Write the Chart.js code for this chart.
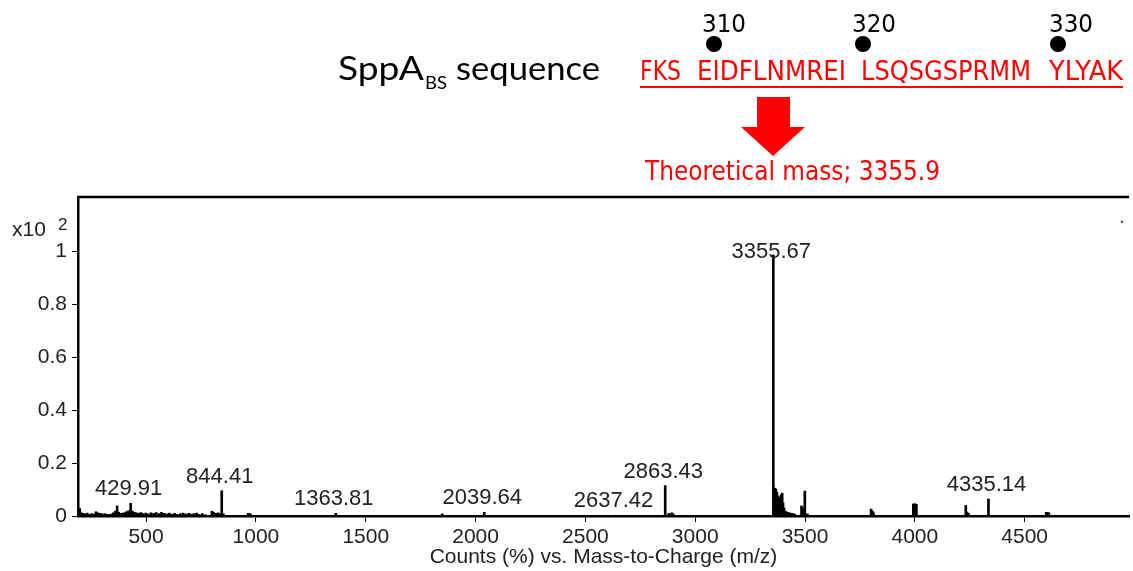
<!DOCTYPE html>
<html>
<head>
<meta charset="utf-8">
<script src="https://cdn.jsdelivr.net/npm/chart.js@4"></script>
<style>
  html, body { margin: 0; padding: 0; background: #fff; }
  #wrap { width: 1133px; height: 571px; position: relative; }
</style>
</head>
<body>
<div id="wrap"><canvas id="grafico" width="1133" height="571"></canvas></div>
<script>
// m/z positions of the sticks and their intensity (counts, x10^2)
const mz = [192, 198, 205, 214, 222, 232, 240, 252, 262, 272, 280, 292, 300, 312, 324, 338, 350, 360, 368, 376,
  388, 398, 410, 420, 429.91, 438, 446, 456, 466, 476, 486, 498, 510, 522, 534, 546, 558, 570, 582, 594,
  606, 618, 630, 642, 656, 668, 680, 694, 706, 718, 730, 742, 756, 770, 800, 808, 818, 828, 836, 844.41, 852,
  965, 975, 1363.81, 1848, 2039.64, 2637.42, 2863.43, 2880, 2893, 2900,
  3355.67, 3362, 3367, 3372, 3377, 3382, 3387, 3391, 3396, 3400, 3405, 3410, 3416, 3422, 3430, 3438, 3446, 3453,
  3484, 3489, 3499, 3511, 3801, 3807, 3812, 3993, 3998, 4003, 4007, 4232, 4238, 4244, 4335.14, 4598, 4604, 4610];
const intensity = [0.030, 0.028, 0.012, 0.010, 0.008, 0.011, 0.006, 0.009, 0.007, 0.016, 0.012, 0.010, 0.008, 0.009, 0.006, 0.007, 0.012, 0.018, 0.038, 0.014,
  0.010, 0.012, 0.016, 0.020, 0.048, 0.018, 0.014, 0.012, 0.010, 0.013, 0.009, 0.011, 0.008, 0.012, 0.010, 0.013, 0.009, 0.014, 0.010, 0.008,
  0.011, 0.007, 0.010, 0.006, 0.009, 0.011, 0.008, 0.010, 0.007, 0.009, 0.011, 0.006, 0.009, 0.005, 0.018, 0.014, 0.010, 0.012, 0.008, 0.095, 0.008,
  0.010, 0.008, 0.010, 0.008, 0.014, 0.003, 0.115, 0.010, 0.012, 0.008,
  0.985, 0.105, 0.102, 0.090, 0.075, 0.070, 0.060, 0.080, 0.086, 0.050, 0.030, 0.018, 0.015, 0.013, 0.012, 0.010, 0.009, 0.007,
  0.038, 0.030, 0.094, 0.008, 0.026, 0.018, 0.012, 0.045, 0.046, 0.045, 0.044, 0.040, 0.015, 0.010, 0.064, 0.014, 0.014, 0.012];

// labelled peaks
const peakLabels = ['429.91', '844.41', '1363.81', '2039.64', '2637.42', '2863.43', '3355.67', '4335.14'];

// stray dot at the top right of the frame
const strayMz = [4943];
const strayY = [1.11];

const xTicks = [500, 1000, 1500, 2000, 2500, 3000, 3500, 4000, 4500];
const yTicks = [0, 0.2, 0.4, 0.6, 0.8, 1];

// header texts
const titleMain = 'SppA';
const titleSub = 'BS';
const titleRest = 'sequence';
const seqParts = ['FKS', 'EIDFLNMREI', 'LSQSGSPRMM', 'YLYAK'];
const seqNumbers = ['310', '320', '330'];
const massText = 'Theoretical mass; 3355.9';
const axisTitle = 'Counts (%) vs. Mass-to-Charge (m/z)';

const sansFont = '"Liberation Sans", Arial, sans-serif';
const narrowFont = '"Liberation Sans Narrow", "DejaVu Sans Condensed", "Liberation Sans", sans-serif';
const roundFont = 'Lato, "Noto Sans", sans-serif';

// draw text squeezed/stretched to a given width
function textFit(ctx, txt, x, y, w, font, color) {
  ctx.save();
  ctx.font = font;
  ctx.fillStyle = color;
  ctx.textAlign = 'left';
  ctx.textBaseline = 'alphabetic';
  const m = ctx.measureText(txt).width;
  ctx.translate(x, y);
  ctx.scale(w / m, 1);
  ctx.fillText(txt, 0, 0);
  ctx.restore();
}

const annotations = {
  id: 'annotations',
  afterDraw(chart) {
    const ctx = chart.ctx;
    const xs = chart.scales.x;
    const ys = chart.scales.y;
    const area = chart.chartArea;

    // top frame line
    ctx.save();
    ctx.strokeStyle = '#000';
    ctx.lineWidth = 2.5;
    ctx.beginPath();
    ctx.moveTo(area.left - 1, area.top);
    ctx.lineTo(area.right, area.top);
    ctx.stroke();

    // x10 2
    ctx.fillStyle = '#222';
    ctx.font = '21px ' + sansFont;
    ctx.textBaseline = 'alphabetic';
    ctx.textAlign = 'left';
    ctx.fillText('x10', 12, 236);
    ctx.font = '17px ' + sansFont;
    ctx.fillText('2', 58, 230);

    // peak labels
    ctx.font = '22px ' + sansFont;
    ctx.textAlign = 'center';
    peakLabels.forEach(lab => {
      const v = parseFloat(lab);
      const i = mz.indexOf(v);
      const h = i >= 0 ? intensity[i] : 0;
      const px = xs.getPixelForValue(v) - 2;
      const py = Math.max(ys.getPixelForValue(h) - 8, ys.getPixelForValue(0.975));
      ctx.fillText(lab, px, py);
    });
    ctx.restore();

    // header: SppA_BS sequence
    textFit(ctx, titleMain, 338, 80, 86, '32px ' + roundFont, '#000');
    textFit(ctx, titleSub, 425, 89, 22, '17px ' + roundFont, '#000');
    textFit(ctx, titleRest, 456, 80, 144, '32px ' + roundFont, '#000');

    // red sequence with underline
    const segX = [[640, 681], [697, 846], [861, 1031], [1049, 1123]];
    seqParts.forEach((s, i) => {
      textFit(ctx, s, segX[i][0], 80, segX[i][1] - segX[i][0], '27px ' + narrowFont, '#f00');
    });
    ctx.save();
    ctx.strokeStyle = '#f00';
    ctx.lineWidth = 2;
    ctx.beginPath();
    ctx.moveTo(640, 87);
    ctx.lineTo(1123, 87);
    ctx.stroke();
    ctx.restore();

    // residue numbers and dots
    const numX = [[702, 746], [852, 896], [1049, 1093]];
    const dotX = [714, 863, 1058];
    seqNumbers.forEach((n, i) => {
      textFit(ctx, n, numX[i][0], 32, numX[i][1] - numX[i][0], '25px ' + narrowFont, '#000');
      ctx.beginPath();
      ctx.arc(dotX[i], 44, 8, 0, Math.PI * 2);
      ctx.fillStyle = '#000';
      ctx.fill();
    });

    // red arrow
    ctx.save();
    ctx.fillStyle = '#f00';
    ctx.beginPath();
    ctx.moveTo(757, 97);
    ctx.lineTo(790, 97);
    ctx.lineTo(790, 127);
    ctx.lineTo(805, 127);
    ctx.lineTo(773, 156);
    ctx.lineTo(741, 127);
    ctx.lineTo(757, 127);
    ctx.closePath();
    ctx.fill();
    ctx.restore();

    textFit(ctx, massText, 645, 180, 295, '27px ' + narrowFont, '#f00');
  }
};

const ctx = document.getElementById('grafico').getContext('2d');
const grafico = new Chart(ctx, {
  type: 'bar',
  data: {
    datasets: [{
      type: 'bar',
      data: mz.map((m, i) => ({ x: m, y: intensity[i] })),
      backgroundColor: '#000',
      barThickness: 2,
      grouped: false
    }, {
      type: 'scatter',
      data: strayMz.map((m, i) => ({ x: m, y: strayY[i] })),
      pointRadius: 1.3,
      pointBackgroundColor: '#666',
      pointBorderWidth: 0
    }]
  },
  options: {
    responsive: false,
    devicePixelRatio: 1,
    animation: false,
    layout: { padding: { top: 197, left: 0, right: 0, bottom: 0 } },
    plugins: { legend: { display: false }, tooltip: { enabled: false } },
    scales: {
      x: {
        type: 'linear',
        min: 190,
        max: 4975,
        offset: false,
        afterBuildTicks: s => { s.ticks = xTicks.map(v => ({ value: v })); },
        afterFit: s => { s.height = 55; },
        grid: { offset: false, drawOnChartArea: false, drawTicks: true, tickLength: 6, color: '#000', lineWidth: 1 },
        border: { display: true, color: '#000', width: 2.5 },
        ticks: { color: '#222', font: { size: 21, family: sansFont }, padding: 3, maxRotation: 0, autoSkip: false,
          callback: v => String(v) },
        title: { display: true, text: axisTitle, color: '#222', font: { size: 21, family: sansFont }, padding: { top: 0, bottom: 1 } }
      },
      y: {
        min: 0,
        max: 1.204,
        afterBuildTicks: s => { s.ticks = yTicks.map(v => ({ value: v })); },
        afterFit: s => { s.width = 78; },
        grid: { drawOnChartArea: false, drawTicks: true, tickLength: 6, color: '#000', lineWidth: 1 },
        border: { display: true, color: '#000', width: 2.5 },
        ticks: { color: '#222', font: { size: 21, family: sansFont }, padding: 5,
          callback: v => String(v) }
      }
    }
  },
  plugins: [annotations]
});
</script>
</body>
</html>
